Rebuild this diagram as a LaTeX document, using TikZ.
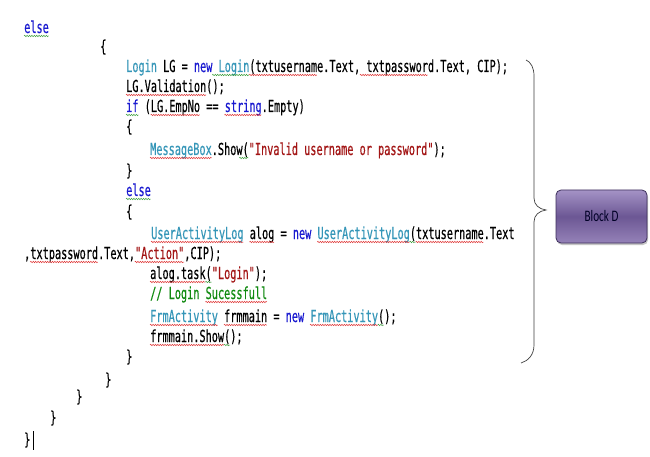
\documentclass[tikz,border=0pt]{standalone}
\usepackage{fontspec}
\newfontfamily\codefont[FakeStretch=0.62,FakeBold=0.4,Ligatures=TeXOff]{DejaVu Sans Mono}
\newfontfamily\boxfont[FakeStretch=0.7]{Carlito}
\usetikzlibrary{decorations.pathmorphing,shadows}
\definecolor{kw}{HTML}{1A1AD0}
\definecolor{ty}{HTML}{3596B8}
\definecolor{st}{HTML}{A31515}
\definecolor{cm}{HTML}{108A10}
\definecolor{sqr}{HTML}{E03535}
\definecolor{sqg}{HTML}{3FA03F}
\definecolor{bracecol}{HTML}{404040}
\definecolor{boxtop}{HTML}{A493C6}
\definecolor{boxmid}{HTML}{6C5794}
\definecolor{boxbot}{HTML}{9582B8}
\definecolor{boxline}{HTML}{3E305C}
\newcommand\KW[1]{\textcolor{kw}{#1}}
\newcommand\TY[1]{\textcolor{ty}{#1}}
\newcommand\ST[1]{\textcolor{st}{#1}}
\newcommand\CM[1]{\textcolor{cm}{#1}}
\newcommand\sqz[5]{\draw[squig,#1] ({#2+#4*6.155},{#3+3}) -- ({#2+(#4+#5)*6.155},{#3+3});}
\tikzset{
  code/.style={anchor=base west, inner sep=0pt, font=\codefont\fontsize{16.5}{19}\selectfont},
  squig/.style={line width=0.5pt, decorate, decoration={snake, amplitude=0.7pt, segment length=2.4pt}},
  blockbox/.style={draw=boxline, line width=0.8pt, rounded corners=5pt,
    top color=boxtop, bottom color=boxbot, middle color=boxmid,
    minimum width=91pt, minimum height=53pt, inner sep=0pt,
    drop shadow={shadow xshift=1pt, shadow yshift=-2pt, fill=black!45},
    font=\boxfont\fontsize{16}{19}\selectfont, text=black!85!blue},
  bracestyle/.style={draw=bracecol, line width=0.7pt}
}
\begin{document}
\begin{tikzpicture}[x=1pt,y=-1pt]
\useasboundingbox[fill=white] (0,0) rectangle (650,457);
% code lines
\node[code] (l1) at (24,33) {\KW{else}};
\node[code] (l2) at (100,52) {\{};
\node[code] (l3) at (126,72) {\TY{Login} LG = \KW{new} \TY{Login}(txtusername.Text, txtpassword.Text, CIP);};
\node[code] (l4) at (126,92) {LG.Validation();};
\node[code] (l5) at (126,112) {\KW{if} (LG.EmpNo == \KW{string}.Empty)};
\node[code] (l6) at (126,132) {\{};
\node[code] (l7) at (150,155) {\TY{MessageBox}.Show(\ST{"Invalid username or password"});};
\node[code] (l8) at (126,176) {\}};
\node[code] (l9) at (126,196) {\KW{else}};
\node[code] (l10) at (126,217) {\{};
\node[code] (l11) at (151,239) {\TY{UserActivityLog} alog = \KW{new} \TY{UserActivityLog}(txtusername.Text};
\node[code] (l12) at (24,259) {,txtpassword.Text,\ST{"Action"},CIP);};
\node[code] (l13) at (150,279) {alog.task(\ST{"Login"});};
\node[code] (l14) at (150,299) {\CM{// Login Sucessfull}};
\node[code] (l15) at (150,322) {\TY{FrmActivity} frmmain = \KW{new} \TY{FrmActivity}();};
\node[code] (l16) at (150,342) {frmmain.Show();};
\node[code] (l17) at (126,362) {\}};
\node[code] (l18) at (105,385) {\}};
\node[code] (l19) at (76,402) {\}};
\node[code] (l20) at (50,423) {\}};
\node[code] (l21) at (24,445) {\}};
\draw[line width=0.9pt] (33,431) -- (33,450);
% squiggles
\sqz{sqg}{24}{33}{0}{4}
\sqz{sqg}{126}{72}{14}{6}
\sqz{sqr}{126}{72}{20}{11}
\sqz{sqr}{126}{72}{38}{11}
\sqz{sqr}{126}{92}{0}{13}
\sqz{sqg}{126}{112}{0}{2}
\sqz{sqr}{126}{112}{4}{8}
\sqz{sqr}{126}{112}{16}{6}
\sqz{sqr}{150}{155}{0}{10}
\sqz{sqg}{150}{155}{14.5}{1.5}
\sqz{sqg}{126}{196}{0}{4}
\sqz{sqr}{151}{239}{0}{15}
\sqz{sqr}{151}{239}{16}{4}
\sqz{sqr}{151}{239}{27}{15}
\sqz{sqg}{151}{239}{42}{1}
\sqz{sqr}{151}{239}{43}{11}
\sqz{sqr}{24}{259}{1}{11}
\sqz{sqr}{24}{259}{18}{8}
\sqz{sqr}{150}{279}{0}{9}
\sqz{sqg}{150}{279}{9}{1}
\sqz{sqr}{150}{299}{9}{10}
\sqz{sqr}{150}{322}{0}{11}
\sqz{sqr}{150}{322}{12}{7}
\sqz{sqr}{150}{322}{26}{11}
\sqz{sqg}{150}{322}{37}{1}
\sqz{sqr}{150}{342}{0}{12}
\sqz{sqg}{150}{342}{12}{1}
% brace
\draw[bracestyle] (526,60) .. controls (531,62) and (534,68) .. (534,76)
  -- (534,198) .. controls (534,205) and (539,209) .. (546,210)
  .. controls (539,211) and (534,215) .. (534,222)
  -- (534,345) .. controls (534,355) and (528,361) .. (521,363);
% block
\node[blockbox] (blockD) at (601.5,216.5) {Block D};
\end{tikzpicture}
\end{document}
